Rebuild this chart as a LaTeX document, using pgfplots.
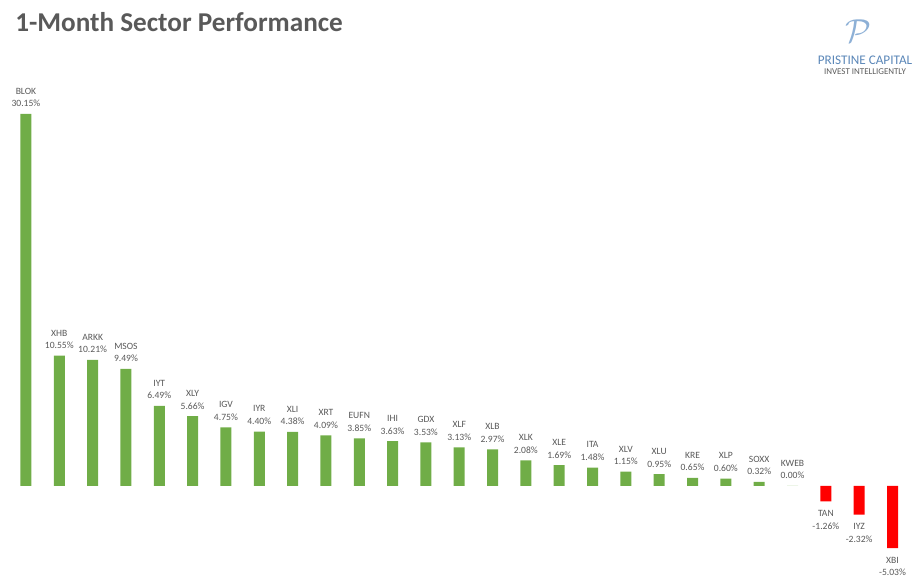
\documentclass[border=0pt]{standalone}
\usepackage{pgfplots}
\pgfplotsset{compat=1.18}
\usepackage{pgfplotstable}
\usepackage{fontspec}
\setmainfont{Carlito}
\definecolor{barg}{HTML}{70AD47}
\definecolor{barr}{HTML}{FF0000}
\definecolor{txt}{HTML}{595959}
\definecolor{logob}{HTML}{5B87B8}
\definecolor{logol}{HTML}{8DB0D6}
\pgfplotstableread{
x y name
0 30.15 BLOK
1 10.55 XHB
2 10.21 ARKK
3 9.49 MSOS
4 6.49 IYT
5 5.66 XLY
6 4.75 IGV
7 4.40 IYR
8 4.38 XLI
9 4.09 XRT
10 3.85 EUFN
11 3.63 IHI
12 3.53 GDX
13 3.13 XLF
14 2.97 XLB
15 2.08 XLK
16 1.69 XLE
17 1.48 ITA
18 1.15 XLV
19 0.95 XLU
20 0.65 KRE
21 0.60 XLP
22 0.32 SOXX
23 0.00 KWEB
}\posdata
\pgfplotstableread{
x y name
24 -1.26 TAN
25 -2.32 IYZ
26 -5.03 XBI
}\negdata
\pgfkeys{/pgf/number format/.cd,fixed,fixed zerofill,precision=2,assume math mode=true}
\begin{document}
\begin{tikzpicture}[x=0.75pt,y=0.75pt]
\path[use as bounding box] (0,0) rectangle (920,577);
\node[anchor=base west,inner sep=0pt,text=txt,font=\fontsize{20.4}{23}\selectfont\bfseries] at (15,545) {1-Month Sector Performance};
\node[text=logol,inner sep=0pt,font=\fontsize{64}{64}\selectfont] at (858,546) {$\mathcal{P}$};
\node[anchor=base,inner sep=0pt,text=logob,font=\fontsize{9.9}{12}\selectfont] at (865,512) {PRISTINE CAPITAL};
\node[anchor=base,inner sep=0pt,text=txt,font=\fontsize{6.7}{8}\selectfont] at (865,502) {INVEST INTELLIGENTLY};
\begin{axis}[
  at={(6.975pt,12.75pt)}, anchor=south west,
  scale only axis, width=674.9pt, height=351.8pt,
  xmin=-0.5, xmax=26.5, ymin=-6, ymax=32,
  axis lines=none,
  bar width=8.25pt,
  every node near coord/.append style={align=center,text=txt,font=\fontsize{7.2}{9.5}\selectfont,inner sep=2pt},
]
\addplot[ybar, bar shift=0pt, fill=barg, draw=none,
  point meta=explicit symbolic,
  visualization depends on={rawy \as \vlab},
  nodes near coords={\pgfplotspointmeta\\\pgfmathprintnumber{\vlab}\%},
  every node near coord/.append style={anchor=south,yshift=3pt}] table[x=x,y=y,meta=name] {\posdata};
\addplot[ybar, bar shift=0pt, fill=barr, draw=none,
  point meta=explicit symbolic,
  visualization depends on={rawy \as \vlab},
  nodes near coords={\pgfplotspointmeta\\\pgfmathprintnumber{\vlab}\%},
  every node near coord/.append style={anchor=north,yshift=-4.5pt}] table[x=x,y=y,meta=name] {\negdata};
\end{axis}
\end{tikzpicture}
\end{document}
